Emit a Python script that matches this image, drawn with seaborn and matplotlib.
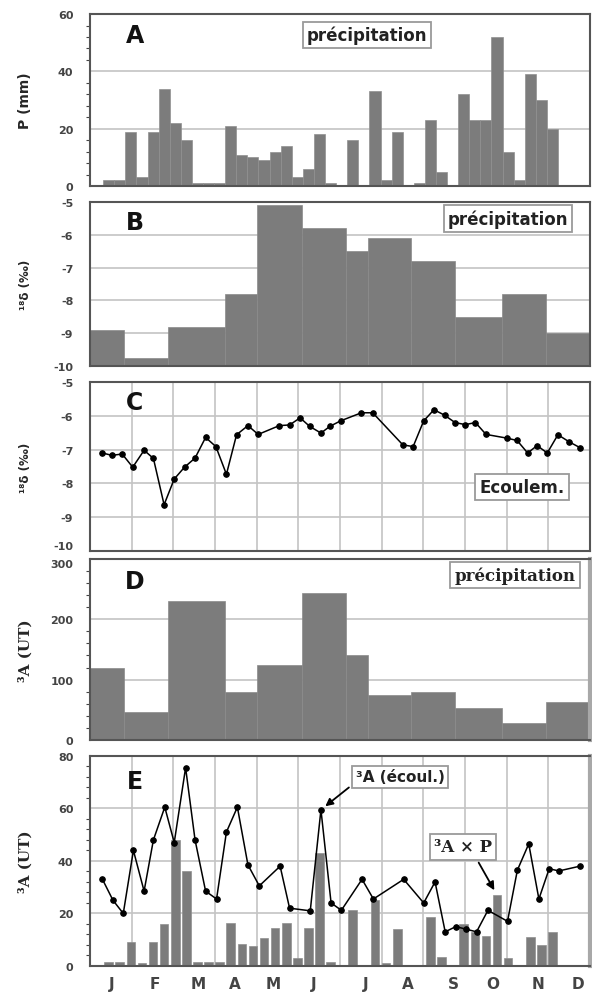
import numpy as np
import matplotlib.pyplot as plt
import seaborn as sns
from matplotlib.ticker import AutoMinorLocator, MultipleLocator

# ---- data (day of year) ----
# A : weekly precipitation, also the sampling grid for the 3A x P bars
rain_first_day = 9.6
rain_period = 8.1
rain_mm = [2, 2, 19, 3, 19, 34, 22, 16, 1, 1, 1, 21, 11, 10, 9, 12, 14, 3, 6, 18,
           1, 0, 16, 0, 33, 2, 19, 0, 1, 23, 5, 0, 32, 23, 23, 52, 12, 2, 39, 30, 20]
tritium_x_p = [1.5, 1.5, 9, 1, 9, 16, 48, 36, 1.5, 1.5, 1.5, 16.5, 8.5, 7.5, 10.5, 14.5,
               16.5, 3, 14.5, 43, 1.5, 0, 21.5, 0, 25, 1, 14, 0, 0.5, 18.5, 3.5, 0,
               16, 13, 11.5, 27, 3, 0.5, 11, 8, 13]

# B and D : composite precipitation samples
composite_edges = [0, 24.7, 57, 98.8, 122.2, 154.6, 186.6, 202.9, 234.6, 266.4, 300.6, 332.6, 365]
d18o_rain = [-8.9, -9.75, -8.8, -7.8, -5.1, -5.8, -6.5, -6.1, -6.8, -8.5, -7.8, -9.0]
tritium_rain = [120, 47, 230, 80, 124, 244, 140, 74, 80, 53, 28, 63]

# C : 18O of the runoff
flow_days = [9.1, 16.0, 23.5, 31.2, 39.5, 46.3, 54.1, 61.5, 69.0, 76.7, 84.4, 91.9, 99.6,
             107.0, 115.3, 122.8, 138.2, 145.7, 153.4, 160.3, 168.6, 175.2, 182.9, 198.1,
             206.4, 228.4, 235.9, 243.6, 251.1, 258.8, 266.5, 274.0, 281.4, 289.1, 304.3,
             311.8, 319.5, 326.4, 333.8, 341.6, 349.8, 357.6]
d18o_flow = [-7.1, -7.17, -7.13, -7.52, -7.02, -7.26, -8.63, -7.87, -7.52, -7.25, -6.64,
             -6.91, -7.73, -6.56, -6.29, -6.55, -6.29, -6.27, -6.06, -6.31, -6.51, -6.31,
             -6.15, -5.91, -5.91, -6.86, -6.91, -6.15, -5.82, -5.98, -6.2, -6.26, -6.2,
             -6.55, -6.66, -6.73, -7.1, -6.88, -7.1, -6.56, -6.77, -6.94]

# E : tritium of the runoff
flow_t_days = [9.1, 16.8, 24.3, 31.7, 39.5, 46.3, 54.6, 61.5, 69.8, 76.7, 84.4, 92.4, 99.6,
               107.6, 115.3, 123.6, 138.8, 145.7, 160.8, 168.6, 176.0, 183.5, 198.6, 206.9,
               229.0, 243.6, 251.9, 259.3, 267.1, 274.5, 282.2, 290.5, 304.8, 312.0, 320.3,
               327.7, 335.2, 342.4, 357.6]
tritium_flow = [33, 25, 20, 44, 28.5, 48, 60.5, 47, 75.5, 48, 28.5, 25.5, 51, 60.5, 38.5,
                30.5, 38, 22, 21, 59.5, 24, 21.2, 33, 25.5, 33, 24, 32, 13, 15, 14, 13,
                21.2, 17, 36.5, 46.5, 25.5, 37, 36.2, 38]

month_letters = ['J', 'F', 'M', 'A', 'M', 'J', 'J', 'A', 'S', 'O', 'N', 'D']
month_label_days = [16, 47.5, 79, 106, 134, 163, 201, 232, 265, 294, 327, 356]

# ---- style ----
sns.set_theme(style="whitegrid")
plt.rcParams['font.family'] = ['DejaVu Sans']
plt.rcParams['font.weight'] = 'bold'
plt.rcParams['axes.labelweight'] = 'bold'
plt.rcParams['axes.unicode_minus'] = False

bar_gray = '#7c7c7c'
grid_gray = '#c4c4c4'
spine_col = '#555555'
tick_col = '#444444'
serif = ['DejaVu Serif']

rain_days = rain_first_day + rain_period * np.arange(len(rain_mm))
month_edges = np.linspace(0, 365, 13)

fig = plt.figure(figsize=(5.92, 10.04), dpi=100)
rects = [
    [0.152, 0.8137, 0.8446, 0.1713],
    [0.152, 0.6345, 0.8446, 0.1633],
    [0.152, 0.4502, 0.8446, 0.1683],
    [0.152, 0.2620, 0.8446, 0.1803],
    [0.152, 0.0369, 0.8446, 0.2092],
]
axes = [fig.add_axes(r) for r in rects]


def base_style(ax, letter):
    ax.set_xlim(0, 365)
    ax.set_axisbelow(True)
    ax.grid(False)
    ax.grid(axis='y', which='major', color=grid_gray, lw=1.2)
    for s in ax.spines.values():
        s.set_color(spine_col)
        s.set_linewidth(1.5)
    ax.set_xticks(month_edges)
    ax.set_xticklabels([])
    ax.tick_params(axis='x', which='both', length=0)
    ax.tick_params(axis='y', which='major', direction='out', length=6, width=1,
                   color=tick_col, labelsize=8, labelcolor=tick_col, pad=6)
    ax.tick_params(axis='y', which='minor', direction='out', length=3, width=0.8,
                   color=tick_col, left=True)
    ax.text(0.09, 0.88, letter, transform=ax.transAxes, fontsize=17,
            fontweight='bold', ha='center', va='center', color='#111111')
    ax.yaxis.set_label_coords(-0.115, 0.5)


box = dict(boxstyle='square,pad=0.25', fc='white', ec='#9a9a9a', lw=1.3)

# A
ax = axes[0]
base_style(ax, 'A')
ax.bar(rain_days, rain_mm, width=rain_period, align='edge', color=bar_gray,
       edgecolor='#909090', lw=0.5)
ax.set_ylim(0, 60)
ax.yaxis.set_major_locator(MultipleLocator(20))
ax.yaxis.set_minor_locator(AutoMinorLocator(5))
ax.set_ylabel('P (mm)', fontsize=10)
ax.text(0.554, 0.878, 'précipitation', transform=ax.transAxes, fontsize=12,
        ha='center', va='center', bbox=box, color='#222222')

# B
ax = axes[1]
base_style(ax, 'B')
ax.bar(composite_edges[:-1], np.array(d18o_rain) + 10, width=np.diff(composite_edges),
       bottom=-10, align='edge', color=bar_gray, edgecolor='#8a8a8a', lw=0.5)
ax.set_ylim(-10, -5)
ax.yaxis.set_major_locator(MultipleLocator(1))
ax.set_ylabel('¹⁸δ (‰)', fontsize=8.5)
ax.text(0.836, 0.90, 'précipitation', transform=ax.transAxes, fontsize=12,
        ha='center', va='center', bbox=box, color='#222222')

# C
ax = axes[2]
base_style(ax, 'C')
ax.grid(axis='x', which='major', color=grid_gray, lw=1.2)
sns.lineplot(x=flow_days, y=d18o_flow, ax=ax, color='black', lw=1.1, marker='o',
             markersize=4, markeredgecolor='black')
ax.set_ylim(-10, -5)
ax.yaxis.set_major_locator(MultipleLocator(1))
ax.set_ylabel('¹⁸δ (‰)', fontsize=8.5)
ax.text(0.864, 0.38, 'Ecoulem.', transform=ax.transAxes, fontsize=12,
        ha='center', va='center', bbox=box, color='#222222')

# D
ax = axes[3]
base_style(ax, 'D')
ax.bar(composite_edges[:-1], tritium_rain, width=np.diff(composite_edges),
       align='edge', color=bar_gray, edgecolor='#8a8a8a', lw=0.5)
ax.set_ylim(0, 300)
ax.yaxis.set_major_locator(MultipleLocator(100))
ax.yaxis.set_minor_locator(AutoMinorLocator(5))
ax.set_ylabel('³A (UT)', fontsize=11, family=serif)
ax.spines['right'].set_color('#a8a8a8')
ax.spines['right'].set_linewidth(3)
ax.text(0.85, 0.91, 'précipitation', transform=ax.transAxes, fontsize=12,
        family=serif, ha='center', va='center', bbox=box, color='#222222')

# E
ax = axes[4]
base_style(ax, 'E')
ax.grid(axis='x', which='major', color=grid_gray, lw=1.2)
ax.bar(rain_days + rain_period / 2, tritium_x_p, width=rain_period * 0.78,
       color=bar_gray, edgecolor='#909090', lw=0.5)
sns.lineplot(x=flow_t_days, y=tritium_flow, ax=ax, color='black', lw=1.1, marker='o',
             markersize=4, markeredgecolor='black')
ax.set_ylim(0, 80)
ax.yaxis.set_major_locator(MultipleLocator(20))
ax.yaxis.set_minor_locator(AutoMinorLocator(5))
ax.set_ylabel('³A (UT)', fontsize=11, family=serif)
ax.spines['right'].set_color('#a8a8a8')
ax.spines['right'].set_linewidth(3)
ax.tick_params(axis='x', which='major', direction='inout', length=6, width=1,
               color=tick_col)
ax.set_xticks(month_label_days, minor=True)
ax.set_xticklabels(month_letters, minor=True)
ax.tick_params(axis='x', which='minor', length=0, pad=7, labelsize=11,
               labelcolor=tick_col)

ax.annotate('³A (écoul.)', xy=(flow_t_days[19], tritium_flow[19]),
            xytext=(0.62, 0.9), textcoords='axes fraction', ha='center', va='center',
            fontsize=11, color='#222222', bbox=box,
            arrowprops=dict(arrowstyle='-|>', color='black', lw=1.3, shrinkB=4,
                            relpos=(0.0, 0.15)))
ax.annotate('³A × P', xy=(rain_days[35] + rain_period / 2, tritium_x_p[35]),
            xytext=(0.746, 0.567), textcoords='axes fraction', ha='center', va='center',
            fontsize=12, family=serif, color='#222222', bbox=box,
            arrowprops=dict(arrowstyle='-|>', color='black', lw=1.3, shrinkB=4,
                            relpos=(0.7, 0.0)))

# keep the stacked end labels of C (-10) and D (300) apart, as in the original
fig.canvas.draw()
for tick in axes[2].yaxis.get_major_ticks():
    if np.isclose(tick.get_loc(), -10):
        tick.label1.set_va('bottom')
for tick in axes[3].yaxis.get_major_ticks():
    if np.isclose(tick.get_loc(), 300):
        tick.label1.set_va('top')

fig.savefig('out.png', dpi=100)
